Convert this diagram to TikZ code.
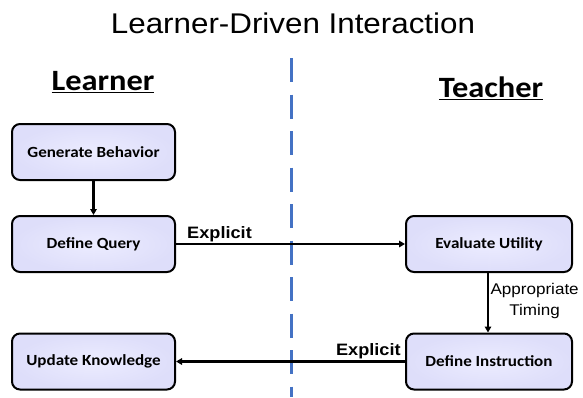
\documentclass[tikz,border=0pt]{standalone}
\usepackage{fontspec}
\setmainfont{Liberation Sans}
\newfontfamily\carl{Carlito}
\usetikzlibrary{arrows.meta}
\definecolor{boxfill}{RGB}{222,222,250}
\definecolor{boxin}{RGB}{236,236,255}
\definecolor{divblue}{RGB}{68,114,196}
\newcommand{\sx}[1]{\scalebox{1.1}[1]{#1}}
\tikzset{
  stepbox/.style={draw=black, line width=2pt, rounded corners=8pt,
    inner color=boxin, outer color=boxfill,
    minimum width=163pt, minimum height=56pt,
    font=\carl\bfseries\fontsize{15.5}{18}\selectfont},
  conn/.style={line width=2.5pt, -{Triangle[length=6pt,width=6.5pt]}},
  head/.style={font=\carl\bfseries\fontsize{29.5}{34}\selectfont},
  lbl/.style={font=\bfseries\fontsize{16.5}{18}\selectfont},
}
\begin{document}
\begin{tikzpicture}[x=1pt,y=-1pt]
\useasboundingbox (0,0) rectangle (583,397);
\node[font=\fontsize{28.5}{32}\selectfont] (title) at (293,23) {\sx{Learner-Driven Interaction}};
\node[head] (lh) at (103,82) {\sx{\underline{Learner}}};
\node[head] (th) at (491,88) {\sx{\underline{Teacher}}};
\coordinate (dtop) at (291,58);
\coordinate (dbot) at (291,397);
\draw[divblue, line width=3pt, dash pattern=on 24pt off 12.5pt] (dtop) -- (dbot);
\node[stepbox] (gb) at (93.5,152) {\sx{Generate Behavior}};
\node[stepbox] (dq) at (93.5,244) {\sx{Define Query}};
\node[stepbox] (uk) at (93.5,361.5) {\sx{Update Knowledge}};
\node[stepbox, minimum width=166pt] (eu) at (489,244) {\sx{Evaluate Utility}};
\node[stepbox, minimum width=166pt] (di) at (489,361.5) {\sx{Define Instruction}};
\draw[conn] (gb) -- (dq);
\draw[conn] (dq) -- node[lbl, above, pos=0.19, yshift=-2.5pt] {\sx{Explicit}} (eu);
\draw[conn] (eu.south -| 488,0) -- node[right, xshift=-2pt, yshift=2pt, align=center, font=\fontsize{15.5}{21}\selectfont] {\sx{Appropriate}\\\sx{Timing}} (di.north -| 488,0);
\draw[conn] (di) -- node[lbl, above, pos=0.16, yshift=-2pt] {\sx{Explicit}} (uk);
\end{tikzpicture}
\end{document}
